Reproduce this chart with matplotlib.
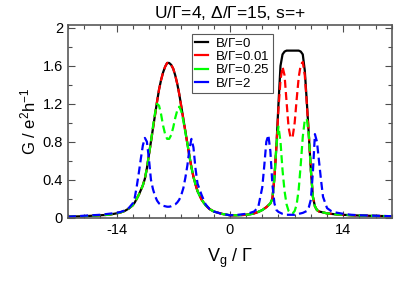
import matplotlib
matplotlib.use('Agg')
import matplotlib.pyplot as plt
from matplotlib.ticker import MultipleLocator, FixedLocator

plt.rcParams['font.family'] = ['Liberation Sans', 'DejaVu Sans']
plt.rcParams['axes.unicode_minus'] = False
plt.rcParams['mathtext.fontset'] = 'custom'
plt.rcParams['mathtext.rm'] = 'Liberation Sans'
plt.rcParams['mathtext.it'] = 'Liberation Sans'

# gate voltage grid, V_g / Gamma
vg = [-20, -18, -16, -15, -14, -13.5, -13, -12.5, -12, -11.75,
      -11.5, -11.25, -11, -10.75, -10.5, -10.25, -10, -9.75, -9.5, -9.25,
      -9, -8.75, -8.5, -8.25, -8, -7.75, -7.5, -7.25, -7, -6.75,
      -6.5, -6.25, -6, -5.75, -5.5, -5.25, -5, -4.75, -4.5, -4.25,
      -4, -3.5, -3, -2.5, -2, -1, 0, 1, 2, 2.5,
      3, 3.5, 4, 4.25, 4.5, 4.75, 5, 5.25, 5.5, 5.75,
      6, 6.25, 6.5, 6.75, 7, 7.25, 7.5, 7.75, 8, 8.25,
      8.5, 8.75, 9, 9.25, 9.5, 9.75, 10, 10.25, 10.5, 10.75,
      11, 11.25, 11.5, 12, 12.5, 13, 14, 15, 16, 18,
      20]

# conductance G / (e^2/h) for each field
g_b0 = [0.01, 0.015, 0.025, 0.03, 0.045, 0.055, 0.07, 0.095, 0.13, 0.16,
        0.2, 0.24, 0.29, 0.34, 0.41, 0.52, 0.66, 0.8, 0.94, 1.08,
        1.22, 1.35, 1.45, 1.53, 1.59, 1.63, 1.63, 1.61, 1.57, 1.5,
        1.41, 1.3, 1.17, 1.04, 0.91, 0.78, 0.65, 0.53, 0.43, 0.35,
        0.28, 0.19, 0.13, 0.09, 0.065, 0.04, 0.025, 0.025, 0.03, 0.035,
        0.045, 0.06, 0.08, 0.095, 0.11, 0.13, 0.15, 0.2, 0.42, 0.76,
        1.2, 1.6, 1.72, 1.75, 1.76, 1.76, 1.76, 1.76, 1.76, 1.76,
        1.76, 1.75, 1.72, 1.55, 1.22, 0.87, 0.5, 0.22, 0.12, 0.08,
        0.065, 0.06, 0.055, 0.045, 0.04, 0.035, 0.03, 0.025, 0.022, 0.018,
        0.015]

g_b001 = [0.01, 0.015, 0.025, 0.03, 0.045, 0.055, 0.07, 0.095, 0.13, 0.16,
          0.2, 0.24, 0.29, 0.34, 0.41, 0.52, 0.66, 0.8, 0.94, 1.08,
          1.22, 1.35, 1.45, 1.53, 1.59, 1.63, 1.63, 1.61, 1.57, 1.5,
          1.41, 1.3, 1.17, 1.04, 0.91, 0.78, 0.65, 0.53, 0.43, 0.35,
          0.28, 0.19, 0.13, 0.09, 0.065, 0.04, 0.025, 0.025, 0.03, 0.035,
          0.045, 0.06, 0.08, 0.095, 0.11, 0.13, 0.15, 0.2, 0.42, 0.76,
          1.15, 1.45, 1.59, 1.5, 1.22, 0.95, 0.84, 0.85, 1.0, 1.25,
          1.48, 1.61, 1.64, 1.5, 1.2, 0.87, 0.5, 0.22, 0.12, 0.08,
          0.065, 0.06, 0.055, 0.045, 0.04, 0.035, 0.03, 0.025, 0.022, 0.018,
          0.015]

g_b025 = [0.01, 0.015, 0.025, 0.03, 0.045, 0.055, 0.07, 0.095, 0.13, 0.16,
          0.2, 0.24, 0.29, 0.34, 0.41, 0.52, 0.66, 0.8, 0.96, 1.1,
          1.2, 1.18, 1.09, 0.97, 0.88, 0.83, 0.83, 0.87, 0.95, 1.05,
          1.13, 1.17, 1.12, 1.02, 0.9, 0.78, 0.65, 0.53, 0.43, 0.35,
          0.28, 0.19, 0.13, 0.09, 0.065, 0.04, 0.025, 0.025, 0.03, 0.035,
          0.045, 0.06, 0.08, 0.095, 0.11, 0.13, 0.15, 0.2, 0.42, 0.76,
          0.96, 0.8, 0.5, 0.28, 0.14, 0.07, 0.045, 0.045, 0.07, 0.14,
          0.3, 0.56, 0.85, 1.03, 1.04, 0.87, 0.5, 0.22, 0.12, 0.08,
          0.065, 0.06, 0.055, 0.045, 0.04, 0.035, 0.03, 0.025, 0.022, 0.018,
          0.015]

g_b2 = [0.01, 0.02, 0.03, 0.04, 0.05, 0.06, 0.075, 0.1, 0.15, 0.21,
        0.33, 0.47, 0.62, 0.76, 0.84, 0.8, 0.62, 0.4, 0.3, 0.23,
        0.18, 0.15, 0.135, 0.125, 0.12, 0.115, 0.115, 0.12, 0.13, 0.14,
        0.16, 0.19, 0.24, 0.31, 0.42, 0.55, 0.72, 0.83, 0.74, 0.52,
        0.36, 0.24, 0.14, 0.09, 0.065, 0.04, 0.025, 0.03, 0.04, 0.05,
        0.065, 0.11, 0.32, 0.55, 0.8, 0.87, 0.7, 0.35, 0.15, 0.08,
        0.06, 0.05, 0.04, 0.035, 0.03, 0.03, 0.03, 0.03, 0.03, 0.035,
        0.04, 0.045, 0.05, 0.06, 0.07, 0.11, 0.19, 0.48, 0.88, 0.8,
        0.6, 0.4, 0.22, 0.1, 0.07, 0.055, 0.04, 0.03, 0.025, 0.02,
        0.015]

labels = [r'B/$\Gamma$=0', r'B/$\Gamma$=0.01', r'B/$\Gamma$=0.25', r'B/$\Gamma$=2']
colors = ['black', '#ff0000', '#00ff00', '#0000ff']

fig = plt.figure(figsize=(3.95, 2.84), dpi=100)
ax = fig.add_axes([0.172, 0.232, 0.82, 0.68])

series = [g_b0, g_b001, g_b025, g_b2]
for i, g in enumerate(series):
    if i == 0:
        ax.plot(vg, g, color=colors[i], lw=1.6, label=labels[i])
    else:
        ax.plot(vg, g, color=colors[i], lw=1.6, dashes=(3.6, 1.9), label=labels[i])

ax.set_xlim(-20, 20)
ax.set_ylim(-0.005, 2.03)
ax.xaxis.set_major_locator(FixedLocator([-14, 0, 14]))
ax.xaxis.set_minor_locator(MultipleLocator(2))
ax.yaxis.set_major_locator(MultipleLocator(0.4))
ax.yaxis.set_minor_locator(MultipleLocator(0.2))
ax.set_yticks([0, 0.4, 0.8, 1.2, 1.6, 2.0])
ax.set_yticklabels(['0', '0.4', '0.8', '1.2', '1.6', '2'])
ax.tick_params(which='both', direction='in', top=True, right=True,
               labelsize=10.5, colors='0.3', labelcolor='black')
ax.tick_params(which='major', length=5, width=0.8)
ax.tick_params(which='minor', length=3, width=0.8)
for s in ax.spines.values():
    s.set_color('0.35')
    s.set_linewidth(1.2)

ax.set_xlabel(r'V$_{\rm g}$ / $\Gamma$', fontsize=13, labelpad=7)
ax.set_ylabel(r'G / e$^{2}$h$^{-1}$', fontsize=12, labelpad=3)
fig.text(0.583, 0.955, r'U/$\Gamma$=4, $\Delta$/$\Gamma$=15, s=+',
         ha='center', va='center', fontsize=12.5)

leg = ax.legend(loc='upper left', bbox_to_anchor=(0.362, 0.99), fontsize=9.5,
                handlelength=1.0, handletextpad=0.5, borderpad=0.25,
                labelspacing=0.02, fancybox=False, framealpha=1)
for h in leg.get_lines():
    h.set_linestyle('-')
leg.get_frame().set_edgecolor('0.35')
leg.get_frame().set_linewidth(0.8)

fig.savefig('out.png', dpi=100)
